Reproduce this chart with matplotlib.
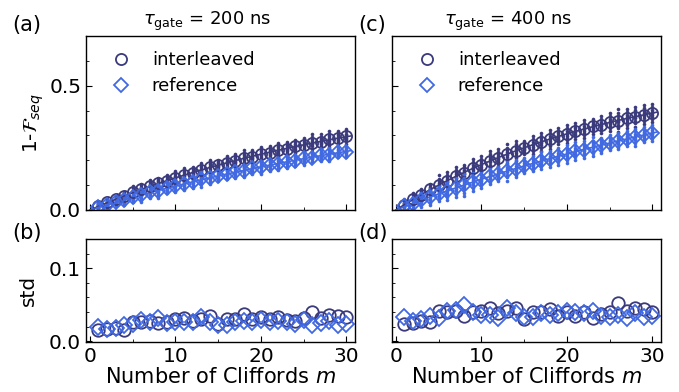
import numpy as np
import matplotlib
matplotlib.use("Agg")
import matplotlib.pyplot as plt
from matplotlib.ticker import MultipleLocator, FormatStrFormatter

# ---------------- data ----------------
m = np.arange(1, 31)

# tau_gate = 200 ns : mean 1-F_seq
int200 = [0.017, 0.031, 0.046, 0.058, 0.071, 0.083, 0.095, 0.107, 0.117, 0.128,
          0.140, 0.149, 0.161, 0.171, 0.180, 0.188, 0.199, 0.208, 0.215, 0.225,
          0.231, 0.241, 0.247, 0.256, 0.261, 0.270, 0.275, 0.284, 0.288, 0.296]
ref200 = [0.012, 0.019, 0.033, 0.040, 0.052, 0.059, 0.071, 0.077, 0.089, 0.095,
          0.106, 0.111, 0.123, 0.127, 0.138, 0.143, 0.154, 0.158, 0.168, 0.172,
          0.182, 0.186, 0.195, 0.199, 0.208, 0.211, 0.220, 0.223, 0.232, 0.235]
# tau_gate = 400 ns
int400 = [0.020, 0.044, 0.061, 0.083, 0.101, 0.117, 0.137, 0.150, 0.168, 0.181,
          0.198, 0.210, 0.226, 0.237, 0.251, 0.261, 0.275, 0.284, 0.297, 0.305,
          0.317, 0.325, 0.336, 0.343, 0.353, 0.360, 0.369, 0.375, 0.384, 0.389]
ref400 = [0.015, 0.025, 0.041, 0.051, 0.066, 0.076, 0.090, 0.100, 0.114, 0.122,
          0.136, 0.144, 0.158, 0.165, 0.178, 0.186, 0.198, 0.206, 0.217, 0.225,
          0.236, 0.243, 0.254, 0.260, 0.271, 0.277, 0.287, 0.293, 0.303, 0.309]

# standard deviations
std_int200 = [0.016, 0.017, 0.018, 0.016, 0.027, 0.026, 0.028, 0.025, 0.027, 0.030,
              0.032, 0.028, 0.031, 0.035, 0.024, 0.031, 0.030, 0.037, 0.030, 0.033,
              0.031, 0.033, 0.029, 0.028, 0.032, 0.040, 0.032, 0.036, 0.034, 0.033]
std_ref200 = [0.019, 0.017, 0.018, 0.022, 0.024, 0.029, 0.026, 0.032, 0.025, 0.026,
              0.027, 0.026, 0.033, 0.027, 0.022, 0.022, 0.027, 0.028, 0.026, 0.029,
              0.027, 0.028, 0.027, 0.024, 0.029, 0.022, 0.025, 0.028, 0.022, 0.024]
std_int400 = [0.024, 0.025, 0.028, 0.026, 0.042, 0.040, 0.042, 0.035, 0.040, 0.041,
              0.045, 0.038, 0.042, 0.045, 0.030, 0.040, 0.040, 0.044, 0.035, 0.040,
              0.035, 0.040, 0.032, 0.037, 0.040, 0.053, 0.042, 0.045, 0.044, 0.040]
std_ref400 = [0.033, 0.028, 0.030, 0.035, 0.032, 0.042, 0.043, 0.050, 0.040, 0.036,
              0.036, 0.032, 0.045, 0.038, 0.033, 0.033, 0.038, 0.036, 0.038, 0.042,
              0.040, 0.038, 0.042, 0.035, 0.033, 0.036, 0.032, 0.038, 0.033, 0.035]

# relative positions (in units of std) of the individual sequence points
spread = [-0.9, -0.6, -0.35, -0.15, 0.0, 0.15, 0.35, 0.6, 0.9]

titles = [r"$\tau_{\mathrm{gate}}$ = 200 ns", r"$\tau_{\mathrm{gate}}$ = 400 ns"]
labels_int = "interleaved"
labels_ref = "reference"

C_INT = "#3a3a7c"
C_REF = "#4169e1"


def fit_curve(x, y):
    best = None
    for p in np.linspace(0.90, 0.9999, 2000):
        b = 1 - p ** x
        A = np.dot(b, y) / np.dot(b, b)
        r = np.sum((A * b - y) ** 2)
        if best is None or r < best[0]:
            best = (r, A, p)
    return best[1], best[2]


plt.rcParams["font.family"] = "DejaVu Sans"
plt.rcParams["mathtext.fontset"] = "dejavusans"
fig = plt.figure(figsize=(6.79, 3.92), dpi=100)

W = 0.3962
lefts = [0.1267, 0.5773]
top_b, top_h = 0.4643, 0.4439
bot_b, bot_h = 0.1276, 0.2628

datasets = [(int200, ref200, std_int200, std_ref200),
            (int400, ref400, std_int400, std_ref400)]

for i, (yi, yr, si, sr) in enumerate(datasets):
    yi = np.array(yi); yr = np.array(yr); si = np.array(si); sr = np.array(sr)
    ax = fig.add_axes([lefts[i], top_b, W, top_h])
    axb = fig.add_axes([lefts[i], bot_b, W, bot_h])

    # individual points
    for k in spread:
        ax.plot(m, yi + k * si, ls="none", marker="o", ms=2.6, color=C_INT, mew=0)
        ax.plot(m, yr + k * sr, ls="none", marker="o", ms=2.6, color=C_REF, mew=0)

    # fits
    xx = np.linspace(0, 30.5, 200)
    A, p = fit_curve(m, yi)
    ax.plot(xx, A * (1 - p ** xx), color=C_INT, lw=1.2)
    A, p = fit_curve(m, yr)
    ax.plot(xx, A * (1 - p ** xx), color=C_REF, lw=1.2)

    ax.plot(m, yi, ls="none", marker="o", ms=8, mfc="none", mec=C_INT, mew=1.3,
            label=labels_int)
    ax.plot(m, yr, ls="none", marker="D", ms=7.5, mfc="none", mec=C_REF, mew=1.3,
            label=labels_ref)

    ax.set_xlim(-0.45, 31)
    ax.set_ylim(0, 0.7)
    ax.xaxis.set_major_locator(MultipleLocator(10))
    ax.xaxis.set_minor_locator(MultipleLocator(5))
    ax.yaxis.set_major_locator(MultipleLocator(0.5))
    ax.yaxis.set_minor_locator(MultipleLocator(0.1))
    ax.tick_params(which="both", direction="in", labelsize=14.5, labelbottom=False)
    ax.tick_params(which="major", length=4)
    ax.tick_params(which="minor", length=2.5)
    ax.legend(loc="upper left", frameon=False, fontsize=13, handlelength=1.0,
              handletextpad=1.2, borderaxespad=0.0, labelspacing=0.45,
              bbox_to_anchor=(0.07, 0.955))

    axb.plot(m, si, ls="none", marker="o", ms=9, mfc="none", mec=C_INT, mew=1.3)
    axb.plot(m, sr, ls="none", marker="D", ms=8, mfc="none", mec=C_REF, mew=1.3)
    axb.set_xlim(-0.45, 31)
    axb.set_ylim(-0.001, 0.14)
    axb.xaxis.set_major_locator(MultipleLocator(10))
    axb.xaxis.set_minor_locator(MultipleLocator(5))
    axb.yaxis.set_major_locator(MultipleLocator(0.1))
    axb.yaxis.set_minor_locator(MultipleLocator(0.02))
    axb.tick_params(which="both", direction="in", labelsize=14.5)
    axb.tick_params(which="major", length=4)
    axb.tick_params(which="minor", length=2.5)
    axb.set_xlabel(r"Number of Cliffords $m$", fontsize=15, labelpad=1)

    if i == 0:
        ax.set_ylabel(r"1-$\mathcal{F}_{seq}$", fontsize=14.5, labelpad=2)
        axb.set_ylabel("std", fontsize=14.5, labelpad=8)
    else:
        ax.tick_params(labelleft=False)
        axb.tick_params(labelleft=False)

    ax.yaxis.set_major_formatter(FormatStrFormatter("%.1f"))
    axb.yaxis.set_major_formatter(FormatStrFormatter("%.1f"))

    for a in (ax, axb):
        for s in a.spines.values():
            s.set_linewidth(1.0)

fig.text(0.305, 0.945, titles[0], ha="center", va="center", fontsize=13)
fig.text(0.748, 0.945, titles[1], ha="center", va="center", fontsize=13)
fig.text(0.018, 0.935, "(a)", ha="left", va="center", fontsize=15)
fig.text(0.018, 0.405, "(b)", ha="left", va="center", fontsize=15)
fig.text(0.527, 0.935, "(c)", ha="left", va="center", fontsize=15)
fig.text(0.527, 0.405, "(d)", ha="left", va="center", fontsize=15)

fig.savefig("out.png", dpi=100)
